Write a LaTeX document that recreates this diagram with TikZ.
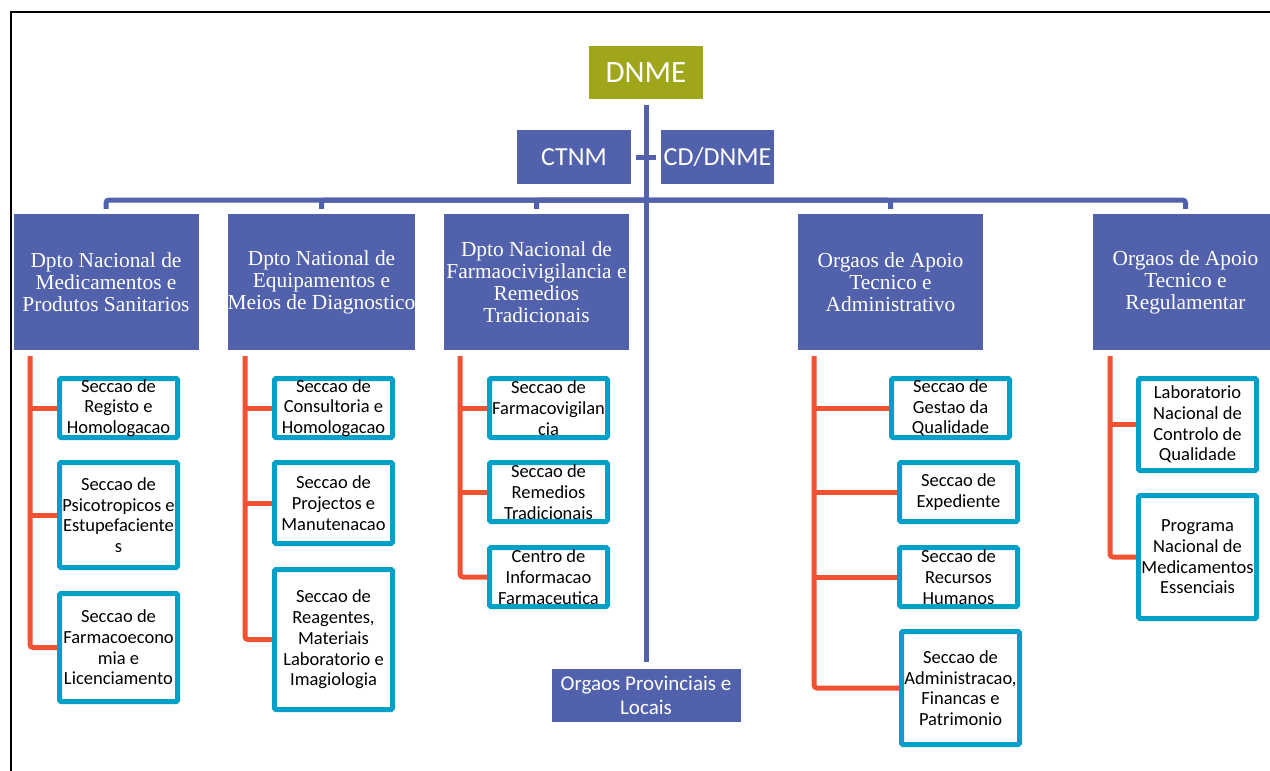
\documentclass[tikz,border=0pt]{standalone}
\usepackage{fontspec}
\setmainfont{Liberation Serif}
\newfontfamily\calibri{Carlito}
\usepackage{tikz}

\definecolor{orgblue}{RGB}{81,97,171}
\definecolor{orgolive}{RGB}{160,166,25}
\definecolor{secred}{RGB}{240,82,50}
\definecolor{seccyan}{RGB}{0,160,200}

\tikzset{
  dept/.style={fill=orgblue, text=white, minimum width=185pt, minimum height=136pt, inner sep=0pt, align=center, font=\fontsize{21.4}{22}\selectfont},
  headbox/.style={fill=orgblue, text=white, inner sep=0pt, align=center, font=\calibri\fontsize{26}{30}\selectfont},
  secbox/.style={draw=seccyan, line width=5pt, rounded corners=1.5pt, fill=white, minimum width=118pt, inner sep=0pt, align=center, font=\calibri\fontsize{18.5}{20.7}\selectfont},
  blueline/.style={draw=orgblue, line width=5pt},
  redline/.style={draw=secred, line width=5pt, rounded corners=3pt},
}

\begin{document}
\begin{tikzpicture}[x=1pt, y=-1pt]
    \useasboundingbox (0,0) rectangle (1270,771);
    \clip (0,0) rectangle (1270,771);
    \draw [line width=2pt] (11,771) -- (11,12) -- (1270,12);

    \node [headbox, fill=orgolive, minimum width=114pt, minimum height=53pt, font=\calibri\fontsize{31}{34}\selectfont] (dnme) at (646,72.5) {DNME};
    \node [headbox, minimum width=114pt, minimum height=54pt] (ctnm) at (574,157) {CTNM};
    \node [headbox, minimum width=113pt, minimum height=54pt] (cd) at (717.5,157) {CD/DNME};
    \node [headbox, minimum width=189pt, minimum height=53pt, font=\calibri\fontsize{21}{24}\selectfont] (prov) at (646,695.5) {Orgaos Provinciais e\\Locais};

    \node [dept] (dmed) at (106,282) {Dpto Nacional de\\Medicamentos e\\Produtos Sanitarios};
    \node [dept] (dequip) at (321.5,282) {Dpto National de\\Equipamentos e\\Meios de Diagnostico};
    \node [dept] (dfarm) at (536.5,282) {Dpto Nacional de\\Farmaocivigilancia e\\Remedios\\Tradicionais};
    \node [dept] (dadmin) at (890.5,282) {Orgaos de Apoio\\Tecnico e\\Administrativo};
    \node [dept] (dreg) at (1185.5,282) {Orgaos de Apoio\\Tecnico e\\Regulamentar};

    \coordinate (bus) at (646,200);
    \draw [blueline, shorten <=6pt, shorten >=7pt] (dnme.south) -- (prov.north);
    \draw [blueline, shorten <=5pt, shorten >=5pt] (ctnm.east) -- (cd.west);
    \draw [blueline, rounded corners=3pt, shorten <=5pt] (dmed.north) |- (bus);
    \draw [blueline, rounded corners=3pt, shorten <=5pt] (dequip.north) |- (bus);
    \draw [blueline, rounded corners=3pt, shorten <=5pt] (dfarm.north) |- (bus);
    \draw [blueline, rounded corners=3pt, shorten <=5pt] (dadmin.north) |- (bus);
    \draw [blueline, rounded corners=3pt, shorten <=5pt] (dreg.north) |- (bus);

    \node [secbox, minimum height=59pt] (registo) at (118.5,408) {Seccao de\\Registo e\\Homologacao};
    \node [secbox, minimum height=105pt] (psico) at (118.5,515) {Seccao de\\Psicotropicos e\\Estupefaciente\\s};
    \node [secbox, minimum height=108pt] (farmeco) at (118.5,647.5) {Seccao de\\Farmacoecono\\mia e\\Licenciamento};

    \node [secbox, minimum height=59pt] (consult) at (333.5,408) {Seccao de\\Consultoria e\\Homologacao};
    \node [secbox, minimum height=81pt] (project) at (333.5,503) {Seccao de\\Projectos e\\Manutenacao};
    \node [secbox, minimum height=140pt] (reag) at (333.5,639.5) {Seccao de\\Reagentes,\\Materiais\\Laboratorio e\\Imagiologia};

    \node [secbox, minimum height=59pt] (farmvig) at (548.5,408) {Seccao de\\Farmacovigilan\\cia};
    \node [secbox, minimum height=59pt] (remed) at (548.5,492) {Seccao de\\Remedios\\Tradicionais};
    \node [secbox, minimum height=59pt] (centro) at (548.5,577) {Centro de\\Informacao\\Farmaceutica};

    \node [secbox, minimum height=59pt] (gestao) at (950.5,408) {Seccao de\\Gestao da\\Qualidade};
    \node [secbox, minimum height=59pt] (exped) at (958.5,492) {Seccao de\\Expediente};
    \node [secbox, minimum height=59pt] (recursos) at (958.5,577) {Seccao de\\Recursos\\Humanos};
    \node [secbox, minimum height=113pt] (adminfin) at (960.5,688) {Seccao de\\Administracao,\\Financas e\\Patrimonio};

    \node [secbox, minimum height=92pt] (lab) at (1197.5,424.5) {Laboratorio\\Nacional de\\Controlo de\\Qualidade};
    \node [secbox, minimum height=123pt] (prog) at (1197.5,557) {Programa\\Nacional de\\Medicamentos\\Essenciais};

    \coordinate (tmed) at (30,356);
    \coordinate (tequip) at (245,356);
    \coordinate (tfarm) at (460,356);
    \coordinate (tadmin) at (814,356);
    \coordinate (treg) at (1110,356);

    \draw [redline] (tmed) |- (farmeco.west);
    \draw [redline] (registo.west) -- (registo.west -| tmed);
    \draw [redline] (psico.west) -- (psico.west -| tmed);

    \draw [redline] (tequip) |- (reag.west);
    \draw [redline] (consult.west) -- (consult.west -| tequip);
    \draw [redline] (project.west) -- (project.west -| tequip);

    \draw [redline] (tfarm) |- (centro.west);
    \draw [redline] (farmvig.west) -- (farmvig.west -| tfarm);
    \draw [redline] (remed.west) -- (remed.west -| tfarm);

    \draw [redline] (tadmin) |- (adminfin.west);
    \draw [redline] (gestao.west) -- (gestao.west -| tadmin);
    \draw [redline] (exped.west) -- (exped.west -| tadmin);
    \draw [redline] (recursos.west) -- (recursos.west -| tadmin);

    \draw [redline] (treg) |- (prog.west);
    \draw [redline] (lab.west) -- (lab.west -| treg);
\end{tikzpicture}
\end{document}
